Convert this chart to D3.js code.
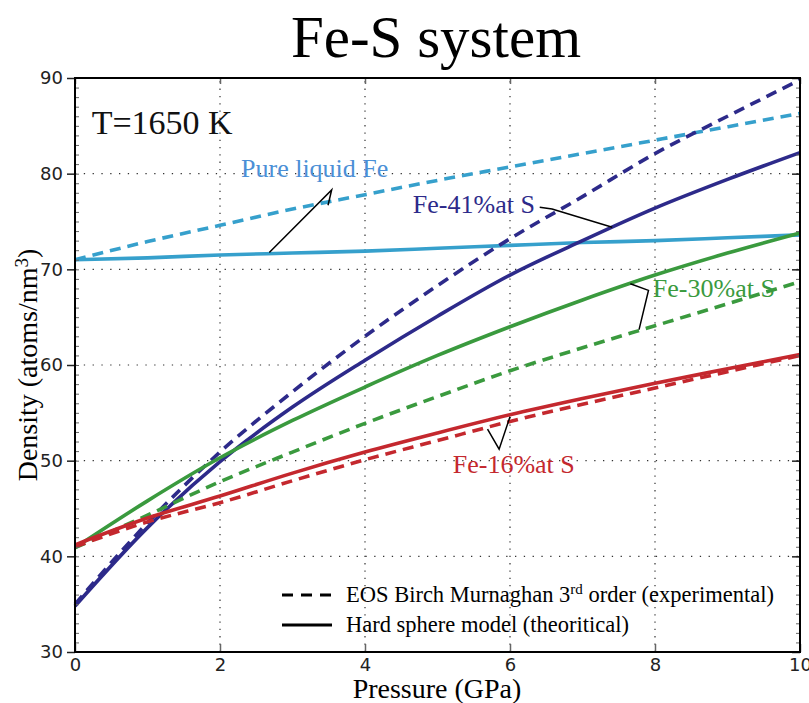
<!DOCTYPE html>
<html>
<head>
<meta charset="utf-8">
<script src="https://cdn.jsdelivr.net/npm/d3@7"></script>
<style>
  body { margin: 0; background: #fff; }
  .serif { font-family: "Liberation Serif", "Times New Roman", serif; }
  .tick text { font-family: "DejaVu Sans", sans-serif; font-size: 18px; fill: #222; }
</style>
</head>
<body>
<div id="chart"></div>
<script>
// chart size and plot box
const width = 809;
const height = 703;
const margin = {left: 75, right: 9, top: 78, bottom: 51};

// pressure steps (GPa)
const pressure = [0, 1, 2, 3, 4, 5, 6, 7, 8, 9, 10];

// density values (atoms/nm3)
const pureFeHS  = [71.0, 71.2, 71.5, 71.7, 71.9, 72.2, 72.5, 72.8, 73.0, 73.3, 73.6];
const pureFeEOS = [71.0, 72.9, 74.6, 76.3, 77.8, 79.3, 80.7, 82.1, 83.5, 84.9, 86.3];
const fe41HS    = [34.8, 43.0, 49.9, 55.6, 60.5, 65.1, 69.4, 73.0, 76.4, 79.4, 82.2];
const fe41EOS   = [35.0, 43.5, 50.9, 57.2, 63.0, 68.3, 73.2, 77.6, 82.1, 86.0, 89.8];
const fe30HS    = [40.9, 45.8, 50.3, 54.2, 57.7, 61.0, 64.0, 66.8, 69.4, 71.7, 73.8];
const fe30EOS   = [40.9, 44.3, 47.8, 50.9, 53.9, 56.7, 59.4, 61.8, 64.1, 66.4, 68.7];
const fe16HS    = [41.2, 44.0, 46.3, 48.7, 50.9, 52.9, 54.8, 56.5, 58.1, 59.6, 61.1];
const fe16EOS   = [41.0, 43.6, 45.6, 47.9, 50.1, 52.1, 54.1, 55.9, 57.6, 59.3, 61.0];

const xTicks = [0, 2, 4, 6, 8, 10];
const yTicks = [30, 40, 50, 60, 70, 80, 90];

// label texts with anchor point and leader line, all in data units
const labels = [
  {text: "Pure liquid Fe", color: "#4b8fd6", at: [2.29, 79.7],
   leader: [[2.68, 71.75], [3.54, 78.3], [3.49, 76.7]]},
  {text: "Fe-41%at S", color: "#2d2a8a", at: [4.66, 75.85],
   leader: [[6.41, 76.5], [6.58, 76.3], [7.41, 74.4]]},
  {text: "Fe-30%at S", color: "#3a9a3e", at: [7.97, 67.1],
   leader: [[7.66, 68.5], [7.91, 67.8], [7.78, 63.7]]},
  {text: "Fe-16%at S", color: "#c4282e", at: [5.21, 48.75],
   leader: [[5.69, 53.3], [5.85, 51.2], [6.0, 54.6]]}
];

const series = [
  {values: pureFeHS,  color: "#36a0cc", dash: null},
  {values: pureFeEOS, color: "#36a0cc", dash: "11,7"},
  {values: fe41HS,    color: "#2d2a8a", dash: null},
  {values: fe41EOS,   color: "#2d2a8a", dash: "11,7"},
  {values: fe30HS,    color: "#3a9a3e", dash: null},
  {values: fe30EOS,   color: "#3a9a3e", dash: "11,7"},
  {values: fe16HS,    color: "#c4282e", dash: null},
  {values: fe16EOS,   color: "#c4282e", dash: "11,7"}
];

const svg = d3.select("#chart")
  .append("svg")
  .attr("width", width)
  .attr("height", height);

const x = d3.scaleLinear()
  .domain([0, 10])
  .range([margin.left, width - margin.right]);

const y = d3.scaleLinear()
  .domain([30, 90])
  .range([height - margin.bottom, margin.top]);

// dotted grid
svg.append("g")
  .selectAll("line.vgrid")
  .data(xTicks.slice(1, -1))
  .enter().append("line")
    .attr("x1", d => x(d)).attr("x2", d => x(d))
    .attr("y1", y(30)).attr("y2", y(90))
    .attr("stroke", "#333").attr("stroke-width", 1.2)
    .attr("stroke-dasharray", "1.3,6");

svg.append("g")
  .selectAll("line.hgrid")
  .data(yTicks.slice(1, -1))
  .enter().append("line")
    .attr("x1", x(0)).attr("x2", x(10))
    .attr("y1", d => y(d)).attr("y2", d => y(d))
    .attr("stroke", "#333").attr("stroke-width", 1.2)
    .attr("stroke-dasharray", "1.3,7.5");

// curves
const line = d3.line()
  .x((d, i) => x(pressure[i]))
  .y(d => y(d))
  .curve(d3.curveMonotoneX);

svg.append("g")
  .selectAll("path")
  .data(series)
  .enter().append("path")
    .attr("d", d => line(d.values))
    .attr("fill", "none")
    .attr("stroke", d => d.color)
    .attr("stroke-width", 3.6)
    .attr("stroke-dasharray", d => d.dash);

// axes
const minor = d3.range(30, 91, 1);

svg.append("g")
  .attr("transform", `translate(0,${y(30)})`)
  .call(d3.axisBottom(x).tickValues(xTicks).tickSize(-8).tickPadding(6).tickFormat(d3.format("d")))
  .call(g => g.select(".domain").remove())
  .call(g => g.selectAll(".tick line").attr("stroke", "#666").attr("stroke-width", 1.5));

svg.append("g")
  .attr("transform", `translate(0,${y(90)})`)
  .call(d3.axisTop(x).tickValues(xTicks).tickSize(-6).tickFormat(""))
  .call(g => g.select(".domain").remove())
  .call(g => g.selectAll(".tick line").attr("stroke", "#666").attr("stroke-width", 1.5));

svg.append("g")
  .attr("transform", `translate(${x(0)},0)`)
  .call(d3.axisLeft(y).tickValues(yTicks).tickSize(8).tickPadding(4))
  .call(g => g.select(".domain").remove())
  .call(g => g.selectAll(".tick line").attr("stroke", "#222").attr("stroke-width", 1.5));

svg.append("g")
  .attr("transform", `translate(${x(0)},0)`)
  .call(d3.axisLeft(y).tickValues(minor).tickSize(-4).tickFormat(""))
  .call(g => g.select(".domain").remove())
  .call(g => g.selectAll(".tick line").attr("stroke", "#666"));

svg.append("g")
  .attr("transform", `translate(${x(10)},0)`)
  .call(d3.axisRight(y).tickValues(minor).tickSize(-4).tickFormat(""))
  .call(g => g.select(".domain").remove())
  .call(g => g.selectAll(".tick line").attr("stroke", "#666"));

svg.append("g")
  .attr("transform", `translate(${x(10)},0)`)
  .call(d3.axisRight(y).tickValues(yTicks).tickSize(-8).tickFormat(""))
  .call(g => g.select(".domain").remove())
  .call(g => g.selectAll(".tick line").attr("stroke", "#222").attr("stroke-width", 1.5));

// frame
svg.append("rect")
  .attr("x", x(0)).attr("y", y(90))
  .attr("width", x(10) - x(0)).attr("height", y(30) - y(90))
  .attr("fill", "none").attr("stroke", "#000").attr("stroke-width", 2);

// curve labels and leaders
const leader = d3.line().x(d => x(d[0])).y(d => y(d[1]));

svg.append("g")
  .selectAll("path")
  .data(labels)
  .enter().append("path")
    .attr("d", d => leader(d.leader))
    .attr("fill", "none")
    .attr("stroke", "#000")
    .attr("stroke-width", 1.5);

svg.append("g")
  .selectAll("text")
  .data(labels)
  .enter().append("text")
    .attr("class", "serif")
    .attr("x", d => x(d.at[0]))
    .attr("y", d => y(d.at[1]))
    .attr("fill", d => d.color)
    .attr("font-size", 26)
    .text(d => d.text);

// title and notes
svg.append("text")
  .attr("class", "serif")
  .attr("x", 436).attr("y", 57)
  .attr("text-anchor", "middle")
  .attr("font-size", 59)
  .text("Fe-S system");

svg.append("text")
  .attr("class", "serif")
  .attr("x", x(0.23)).attr("y", y(84.1))
  .attr("font-size", 34)
  .attr("fill", "#111")
  .text("T=1650 K");

svg.append("text")
  .attr("class", "serif")
  .attr("x", 437).attr("y", 698)
  .attr("text-anchor", "middle")
  .attr("font-size", 28)
  .text("Pressure (GPa)");

const ylab = svg.append("text")
  .attr("class", "serif")
  .attr("transform", "translate(37,365) rotate(-90)")
  .attr("text-anchor", "middle")
  .attr("font-size", 28);
ylab.append("tspan").text("Density (atoms/nm");
ylab.append("tspan").attr("font-size", 19).attr("dy", -9).text("3");
ylab.append("tspan").attr("dy", 9).text(")");

// legend
const legend = [
  {dash: "11,8", label: "EOS Birch Murnaghan ", sup: "rd", tail: " order (experimental)", num: "3"},
  {dash: null, label: "Hard sphere model (theoritical)", sup: null}
];

const lg = svg.append("g");
legend.forEach((d, i) => {
  const ly = 595 + i * 30;
  lg.append("line")
    .attr("x1", 282).attr("x2", 332)
    .attr("y1", ly).attr("y2", ly)
    .attr("stroke", "#000").attr("stroke-width", 3.2)
    .attr("stroke-dasharray", d.dash);
  const t = lg.append("text")
    .attr("class", "serif")
    .attr("x", 346).attr("y", ly + 7)
    .attr("font-size", 22.5);
  if (d.sup) {
    t.append("tspan").text(d.label + d.num);
    t.append("tspan").attr("font-size", 15).attr("dy", -8).text(d.sup);
    t.append("tspan").attr("dy", 8).text(d.tail);
  } else {
    t.text(d.label);
  }
});
</script>
</body>
</html>
